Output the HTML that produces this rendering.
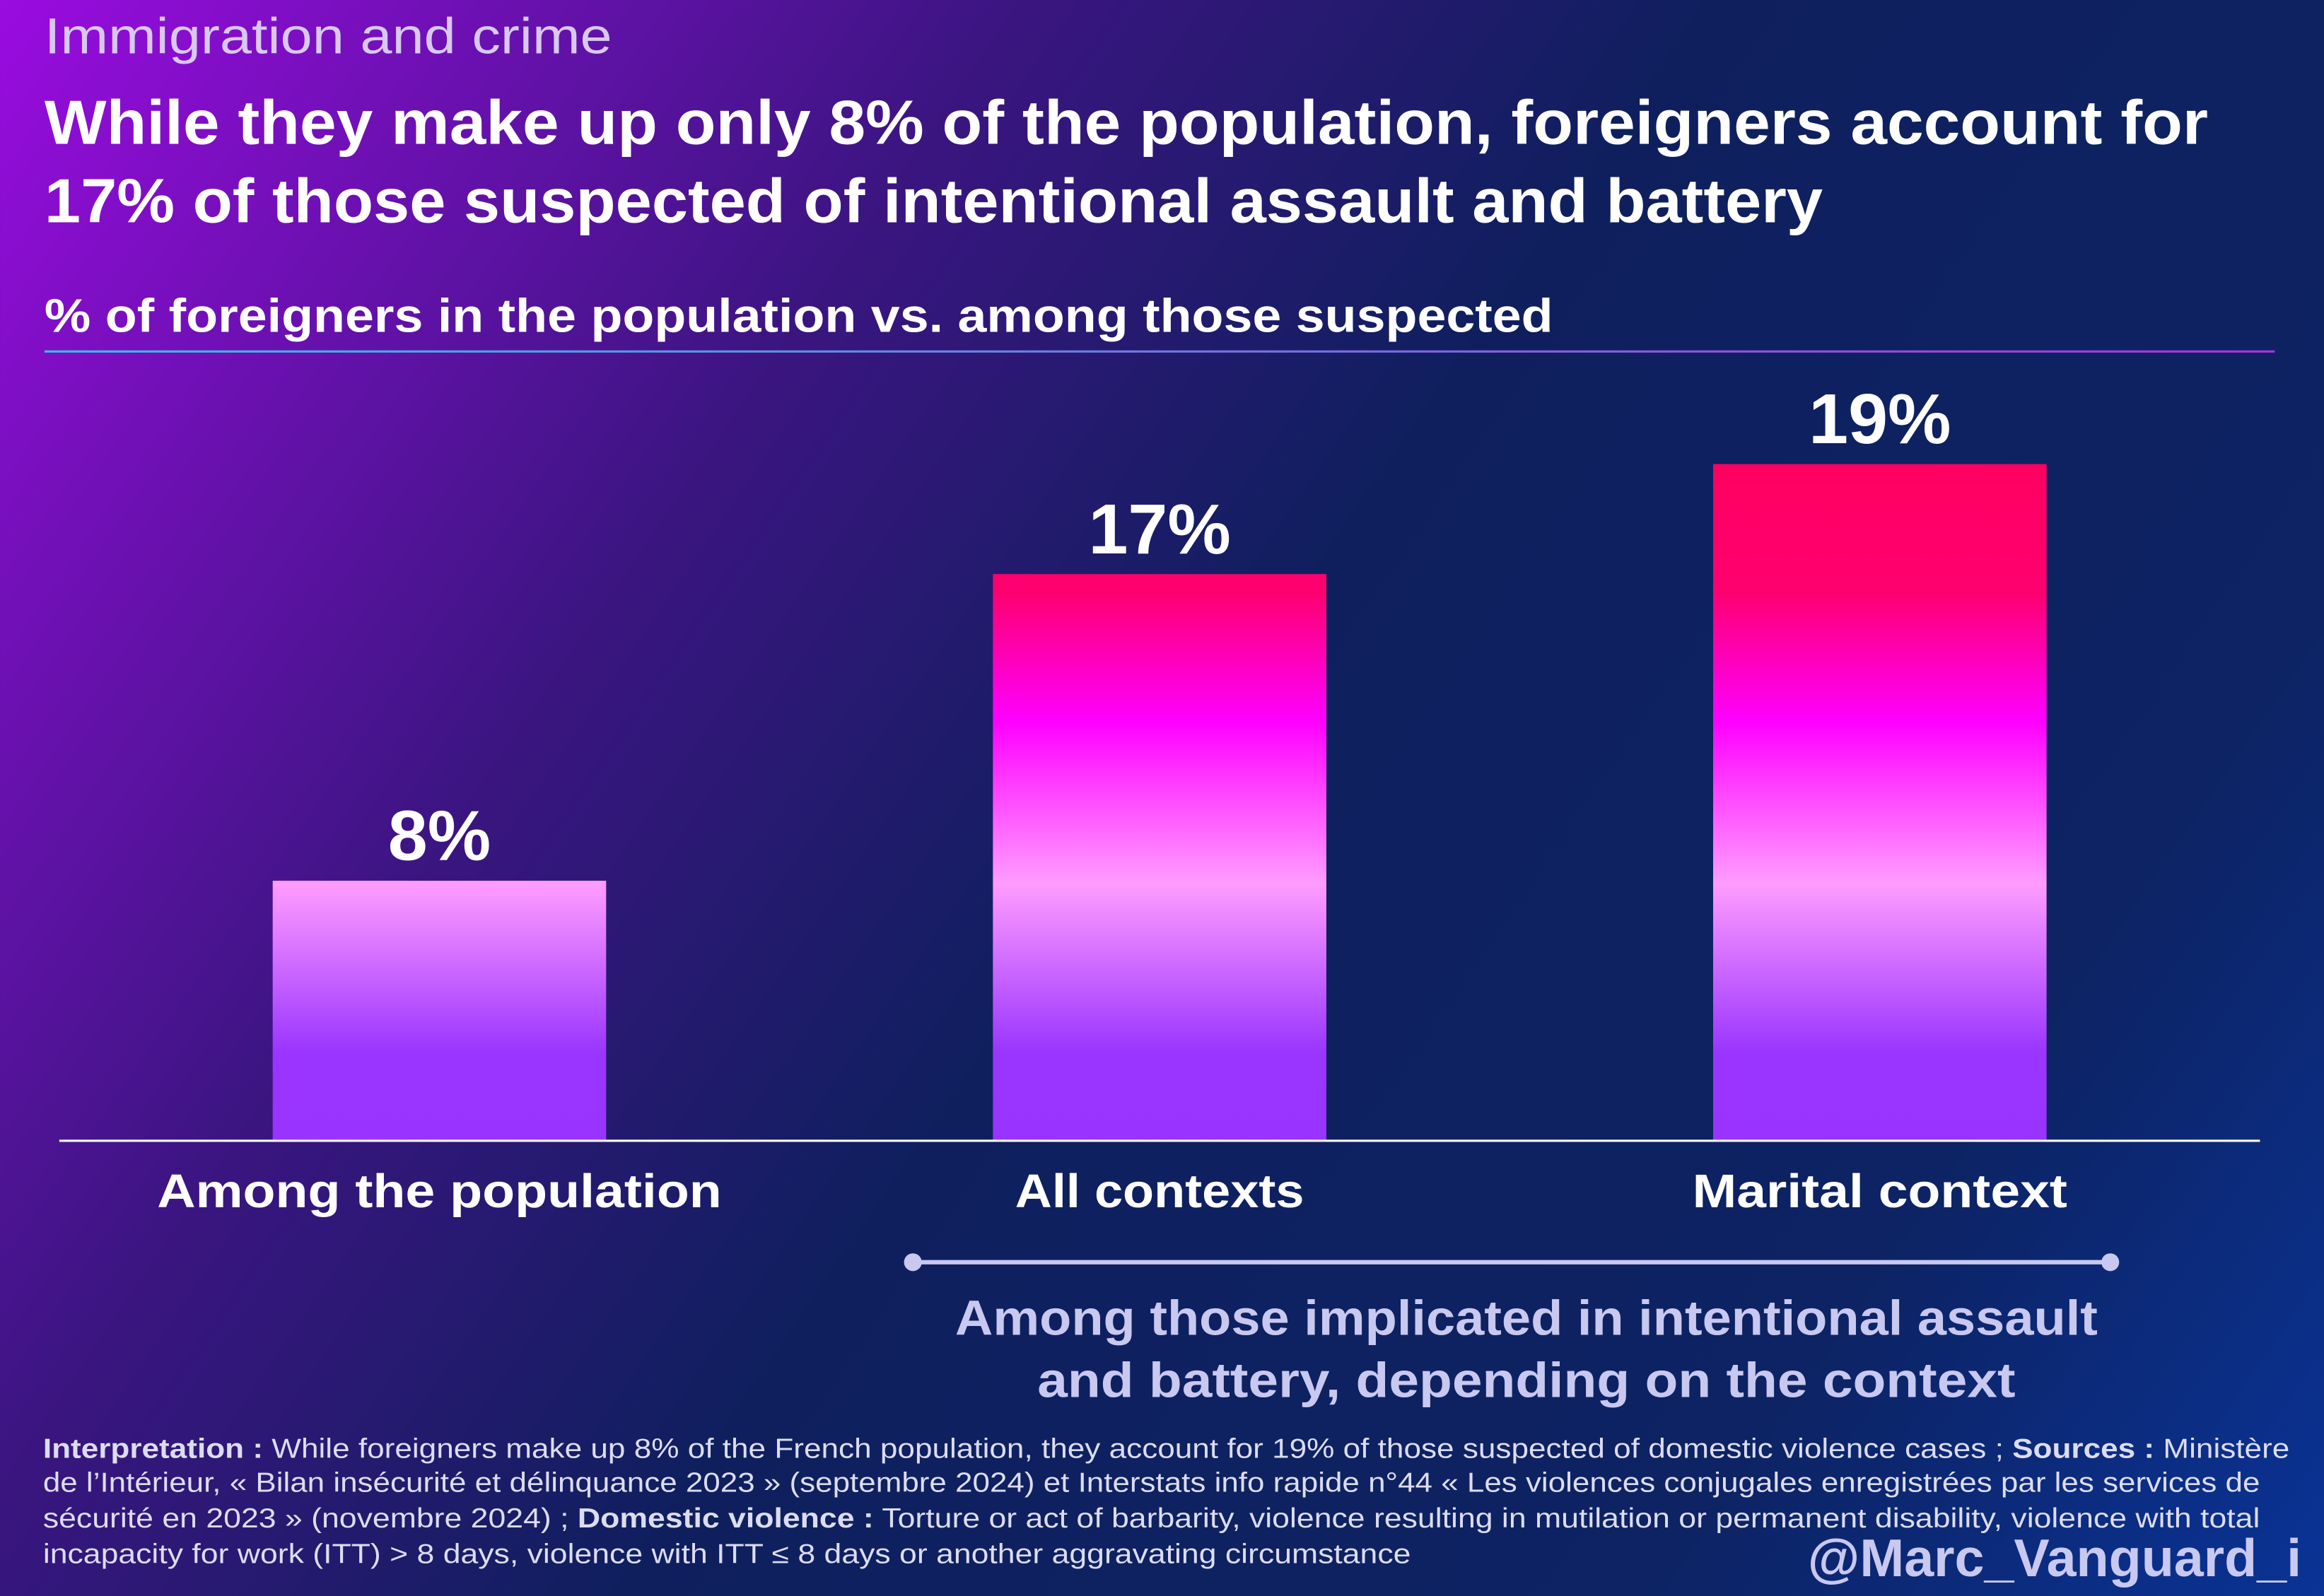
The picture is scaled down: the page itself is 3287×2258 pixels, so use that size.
<!DOCTYPE html>
<html><head><meta charset="utf-8"><style>
html,body{margin:0;padding:0;width:3287px;height:2258px;overflow:hidden;background:#0d2060}
svg{display:block}
text{font-family:"Liberation Sans",sans-serif}
</style></head><body>
<svg id="chart" width="3287" height="2258" viewBox="0 0 1568.2 1077.3" xmlns="http://www.w3.org/2000/svg">
<defs>
<linearGradient id="bg" x1="0" y1="0" x2="1568" y2="1077" gradientUnits="userSpaceOnUse">
<stop offset="0" stop-color="#9a0ce0"/>
<stop offset="0.3" stop-color="#3a1580"/>
<stop offset="0.5" stop-color="#0f1f5e"/>
<stop offset="0.8" stop-color="#0d2363"/>
<stop offset="1" stop-color="#0a3396"/>
</linearGradient>
<linearGradient id="barg" x1="0" y1="313" x2="0" y2="770" gradientUnits="userSpaceOnUse">
<stop offset="0" stop-color="#ff0060"/>
<stop offset="0.19" stop-color="#ff0070"/>
<stop offset="0.38" stop-color="#ff00ff"/>
<stop offset="0.62" stop-color="#ff9cff"/>
<stop offset="0.87" stop-color="#9a35ff"/>
<stop offset="1" stop-color="#9933ff"/>
</linearGradient>
<linearGradient id="rule" x1="0" x2="1" y1="0" y2="0">
<stop offset="0" stop-color="#33c0e8"/><stop offset="1" stop-color="#b030e0"/>
</linearGradient>
</defs>
<rect x="0" y="0" width="1568.2" height="1077.3" fill="url(#bg)"/>
<text x="30" y="36" font-size="34" fill="#d8c8f0" textLength="383" lengthAdjust="spacingAndGlyphs">Immigration and crime</text>
<text x="30" y="97" font-size="42" font-weight="bold" fill="#fff" textLength="1460" lengthAdjust="spacingAndGlyphs">While they make up only 8% of the population, foreigners account for</text>
<text x="30" y="150" font-size="42" font-weight="bold" fill="#fff" textLength="1200" lengthAdjust="spacingAndGlyphs">17% of those suspected of intentional assault and battery</text>
<text x="30" y="224" font-size="32" font-weight="bold" fill="#fff" textLength="1018" lengthAdjust="spacingAndGlyphs">% of foreigners in the population vs. among those suspected</text>
<rect x="30" y="236.5" width="1505" height="1.5" fill="url(#rule)"/>
<g id="bars"></g>
<line x1="40" y1="770" x2="1525" y2="770" stroke="#fff" stroke-width="1.5"/>
<g>
<line x1="616" y1="852" x2="1424" y2="852" stroke="#c8c8f0" stroke-width="3"/>
<circle cx="616" cy="852" r="6" fill="#c8c8f0"/><circle cx="1424" cy="852" r="6" fill="#c8c8f0"/>
</g>
<text x="1030" y="901" font-size="33" font-weight="bold" fill="#c8c8f0" text-anchor="middle" textLength="771" lengthAdjust="spacingAndGlyphs">Among those implicated in intentional assault</text>
<text x="1030" y="943" font-size="33" font-weight="bold" fill="#c8c8f0" text-anchor="middle" textLength="660" lengthAdjust="spacingAndGlyphs">and battery, depending on the context</text>
<g font-size="18.5" fill="#dcdcf0">
<text x="29" y="984" textLength="1516" lengthAdjust="spacingAndGlyphs"><tspan font-weight="bold">Interpretation :</tspan> While foreigners make up 8% of the French population, they account for 19% of those suspected of domestic violence cases ; <tspan font-weight="bold">Sources :</tspan> Ministère</text>
<text x="29" y="1007" textLength="1496" lengthAdjust="spacingAndGlyphs">de l’Intérieur, « Bilan insécurité et délinquance 2023 » (septembre 2024) et Interstats info rapide n°44 « Les violences conjugales enregistrées par les services de</text>
<text x="29" y="1031" textLength="1496" lengthAdjust="spacingAndGlyphs">sécurité en 2023 » (novembre 2024) ; <tspan font-weight="bold">Domestic violence :</tspan> Torture or act of barbarity, violence resulting in mutilation or permanent disability, violence with total</text>
<text x="29" y="1055" textLength="923" lengthAdjust="spacingAndGlyphs">incapacity for work (ITT) &gt; 8 days, violence with ITT ≤ 8 days or another aggravating circumstance</text>
</g>
<text x="1553" y="1064" font-size="36" font-weight="bold" fill="#c8c8f0" text-anchor="end">@Marc_Vanguard_i</text>
</svg>
<script>
const categories = ["Among the population", "All contexts", "Marital context"];
const values = [7.8, 17, 20.3];
const valueLabels = ["8%", "17%", "19%"];
const categoryWidths = [381, 195, 253];

const NS = "http://www.w3.org/2000/svg";
const g = document.getElementById("bars");
const baseY = 770, pxPer = 22.5;
function yScale(v){ return baseY - v * pxPer; }
function xCenter(i){ return 296.5 + i * 486; }
const bw = 225;
categories.forEach((c, i) => {
  const y = yScale(values[i]);
  const r = document.createElementNS(NS, "rect");
  r.setAttribute("x", xCenter(i) - bw/2);
  r.setAttribute("y", y);
  r.setAttribute("width", bw);
  r.setAttribute("height", baseY - y);
  r.setAttribute("fill", "url(#barg)");
  
  
  g.appendChild(r);
  const t = document.createElementNS(NS, "text");
  t.setAttribute("x", xCenter(i));
  t.setAttribute("y", y - 14);
  t.setAttribute("font-size", "48");
  t.setAttribute("font-weight", "bold");
  t.setAttribute("fill", "#fff");
  t.setAttribute("text-anchor", "middle");
  t.textContent = valueLabels[i];
  
  
  g.appendChild(t);
  const l = document.createElementNS(NS, "text");
  l.setAttribute("x", xCenter(i));
  l.setAttribute("y", 815);
  l.setAttribute("font-size", "32");
  l.setAttribute("font-weight", "bold");
  l.setAttribute("fill", "#fff");
  l.setAttribute("text-anchor", "middle");
  l.setAttribute("textLength", categoryWidths[i]);
  l.setAttribute("lengthAdjust", "spacingAndGlyphs");
  l.textContent = c;
  
  
  g.appendChild(l);
});
</script>
</body></html>
